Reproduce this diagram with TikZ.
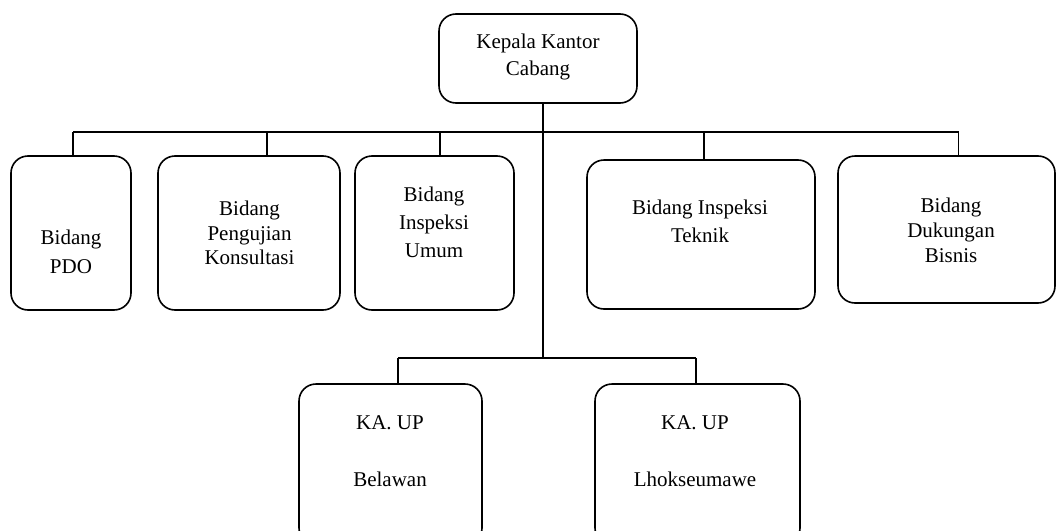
\documentclass[tikz,border=0pt]{standalone}
\usepackage{fontspec}
\setmainfont{Liberation Serif}
\begin{document}
\begin{tikzpicture}[x=1pt,y=-1pt,
  box/.style={draw,line width=1.6pt,rounded corners=17pt,inner sep=0pt},
  lbl/.style={align=center,inner sep=0pt,font=\fontsize{21}{#1}\selectfont},
  lbl/.default=28,
  conn/.style={line width=1.6pt}]
\useasboundingbox (0,0) rectangle (1056,530);
% boxes
\node[box,minimum width=198pt,minimum height=89pt] (top) at (538,58.5) {};
\node[box,minimum width=120pt,minimum height=154pt] (pdo) at (71,233) {};
\node[box,minimum width=182pt,minimum height=154pt] (peng) at (249,233) {};
\node[box,minimum width=159pt,minimum height=154pt] (umum) at (434.5,233) {};
\node[box,minimum width=228pt,minimum height=149pt] (tek) at (701,234.5) {};
\node[box,minimum width=217pt,minimum height=147pt] (duk) at (946.5,229.5) {};
\node[box,minimum width=183pt,minimum height=161pt] (bel) at (390.5,464.5) {};
\node[box,minimum width=205pt,minimum height=161pt] (lho) at (697.5,464.5) {};
% texts
\node[lbl=27] (ttop) at (538,56.5) {Kepala Kantor\\Cabang};
\node[lbl=29] (tpdo) at (71,251.5) {Bidang\\PDO};
\node[lbl=24.5] (tpeng) at (249.5,233) {Bidang\\Pengujian\\Konsultasi};
\node[lbl=28] (tumum) at (434,222) {Bidang\\Inspeksi\\Umum};
\node[lbl=28] (ttek) at (700,221) {Bidang Inspeksi\\Teknik};
\node[lbl=25] (tduk) at (951,230) {Bidang\\Dukungan\\Bisnis};
\node[lbl=28.5] (tbel) at (390,451) {KA. UP\\[28.5pt]Belawan};
\node[lbl=28.5] (tlho) at (695,451) {KA. UP\\[28.5pt]Lhokseumawe};
% connectors
\coordinate (hub) at (543,132);
\coordinate (hubB) at (543,358);
\coordinate (busL) at (73,132);
\coordinate (busR) at (958.5,132);
\coordinate (busBL) at (398,358);
\coordinate (busBR) at (696,358);
\draw[conn] (hub |- top.south) -- (hubB);
\draw[conn] (busL) -- (busR);
\draw[conn] (busL) -- (busL |- pdo.north);
\draw[conn] ([xshift=18pt]peng.north |- hub) -- ([xshift=18pt]peng.north);
\draw[conn] ([xshift=5.5pt]umum.north |- hub) -- ([xshift=5.5pt]umum.north);
\draw[conn] ([xshift=3pt]tek.north |- hub) -- ([xshift=3pt]tek.north);
\draw[conn] (busR) -- (busR |- duk.north);
\draw[conn] (busBL) -- (busBR);
\draw[conn] (busBL) -- (busBL |- bel.north);
\draw[conn] (busBR) -- (busBR |- lho.north);
\end{tikzpicture}
\end{document}
